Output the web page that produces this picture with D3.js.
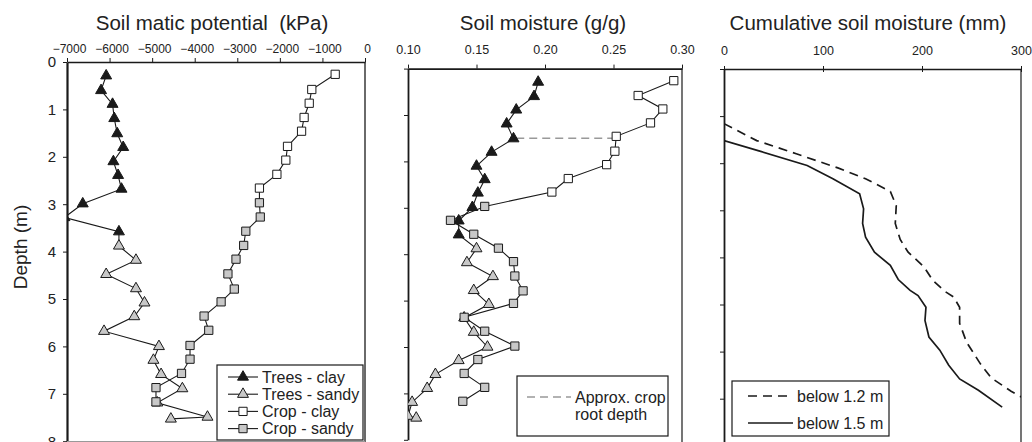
<!DOCTYPE html>
<html>
<head>
<meta charset="utf-8">
<script src="https://cdn.jsdelivr.net/npm/d3@7"></script>
<style>
  body { margin: 0; background: #fff; }
  svg { display: block; font-family: "Liberation Sans", Arial, sans-serif; }
  .title { font-size: 20.5px; fill: #222; text-anchor: middle; white-space: pre; }
  .ylabel { font-size: 19px; fill: #222; text-anchor: middle; }
  .legend text { font-size: 16px; fill: #222; }
</style>
</head>
<body>
<svg id="chart" width="1032" height="442"></svg>
<script>
// depths (m)
const treesClayDepth = [0.29, 0.60, 0.89, 1.19, 1.51, 1.80, 2.10, 2.39, 2.68, 2.99, 3.28, 3.58];
const treesSandyDepth = [3.88, 4.18, 4.48, 4.78, 5.08, 5.37, 5.68, 6.00, 6.29, 6.59, 6.89, 7.19, 7.49, 7.53];
const cropClayDepth = [0.26, 0.58, 0.87, 1.17, 1.46, 1.78, 2.07, 2.37, 2.66];
const cropSandyDepth = [2.97, 3.27, 3.57, 3.87, 4.16, 4.47, 4.79, 5.06, 5.36, 5.66, 5.98, 6.27, 6.57, 6.87, 7.17];

// soil matric potential (kPa)
const treesClayPotential = [-6080, -6200, -5930, -5890, -5820, -5680, -5910, -5800, -5720, -6630, -7060, -5780];
const treesSandyPotential = [-5780, -5380, -6080, -5380, -5180, -5420, -6130, -4840, -4970, -4790, -4290, -4880, -3700, -4560];
const cropClayPotential = [-700, -1250, -1310, -1430, -1490, -1820, -1860, -2070, -2480];
const cropSandyPotential = [-2480, -2460, -2800, -2850, -3030, -3220, -3070, -3380, -3780, -3670, -4110, -4110, -4310, -4910, -4910];

// soil moisture (g/g)
const treesClayMoisture = [0.195, 0.192, 0.179, 0.172, 0.177, 0.161, 0.150, 0.156, 0.151, 0.147, 0.137, 0.137];
const treesSandyMoisture = [0.150, 0.143, 0.162, 0.148, 0.159, 0.141, 0.148, 0.158, 0.137, 0.120, 0.114, 0.103, 0.100, 0.106];
const cropClayMoisture = [0.294, 0.268, 0.286, 0.277, 0.252, 0.251, 0.245, 0.217, 0.205];
const cropSandyMoisture = [0.156, 0.131, 0.148, 0.166, 0.177, 0.178, 0.184, 0.177, 0.141, 0.156, 0.178, 0.151, 0.141, 0.156, 0.140];

// approx. crop root depth marker
const rootDepth = 1.5;
const rootMoisture = [0.179, 0.251];

// cumulative soil moisture (mm)
const below12Depth = [1.16, 1.52, 1.80, 2.10, 2.33, 2.60, 2.90, 3.28, 3.62, 3.89, 4.20, 4.49, 4.72, 4.84, 5.06, 5.40, 5.80, 6.26, 6.56, 6.84, 7.15];
const below12Cum = [0, 33, 73, 115, 143, 168, 174, 173, 178, 186, 202, 211, 223, 232, 238, 238, 245, 259, 270, 290, 316];
const below15Depth = [1.52, 1.75, 2.05, 2.33, 2.65, 2.97, 3.28, 3.57, 3.89, 4.17, 4.47, 4.70, 4.81, 5.06, 5.34, 5.69, 5.97, 6.29, 6.58, 6.82, 7.18];
const below15Cum = [0, 37, 84, 110, 137, 141, 140, 143, 152, 168, 176, 188, 196, 204, 203, 207, 218, 227, 238, 257, 281];

// ticks
const depthTicks = [0, 1, 2, 3, 4, 5, 6, 7, 8];
const potentialTicks = [-7000, -6000, -5000, -4000, -3000, -2000, -1000, 0];
const moistureTicks = [0.10, 0.15, 0.20, 0.25, 0.30];
const cumTicks = [0, 100, 200, 300];

const GRAY = '#c8c8c8';
const INK = '#1a1a1a';

const $svg = d3.select('#chart');

function zip(depths, values) {
  return depths.map((dep, i) => ({ depth: dep, v: values[i] }));
}

const triangle = d3.symbol().type(d3.symbolTriangle).size(52);
const square = d3.symbol().type(d3.symbolSquare).size(68);

function panel(opts) {
  const x = d3.scaleLinear().domain(opts.xDomain).range([opts.left, opts.right]);
  const y = d3.scaleLinear().domain([0, 8]).range([opts.top, opts.top + 8 * opts.pxPerM]);
  const $g = $svg.append('g');

  const clipId = 'clip-' + opts.id;
  $svg.append('clipPath').attr('id', clipId)
    .append('rect')
    .attr('x', opts.left).attr('y', opts.top)
    .attr('width', opts.right - opts.left).attr('height', y(8) - opts.top);

  // right border
  $g.append('line')
    .attr('x1', opts.right).attr('x2', opts.right)
    .attr('y1', opts.top).attr('y2', 442)
    .attr('stroke', opts.rightColor).attr('stroke-width', opts.rightWidth);

  const axisX = d3.axisTop(x)
    .tickValues(opts.xTicks)
    .tickFormat(d3.format(opts.xFormat))
    .tickSize(opts.tickSize)
    .tickSizeOuter(0)
    .tickPadding(opts.xPad);

  const $ax = $g.append('g')
    .attr('transform', `translate(0,${opts.top})`)
    .call(axisX)
    .attr('font-size', opts.xFont)
    .attr('font-family', null);
  $ax.select('.domain').attr('stroke', INK).attr('stroke-width', 1.6);
  $ax.selectAll('.tick line').attr('stroke', INK).attr('y2', -opts.tickSize).attr('y1', opts.tickDown || 0);
  $ax.selectAll('.tick text').attr('fill', '#222').attr('dx', opts.xShift || 0);

  const axisY = d3.axisLeft(y)
    .tickValues(depthTicks)
    .tickFormat(opts.yLabels ? d3.format('d') : '')
    .tickSize(4)
    .tickSizeOuter(0)
    .tickPadding(7);

  const $ay = $g.append('g')
    .attr('transform', `translate(${opts.left},0)`)
    .call(axisY)
    .attr('font-size', 15)
    .attr('font-family', null);
  $ay.select('.domain').attr('stroke', INK).attr('stroke-width', opts.leftWidth);
  $ay.selectAll('.tick line').attr('stroke', INK);
  $ay.selectAll('.tick text').attr('fill', '#222');

  $svg.append('text')
    .attr('class', 'title')
    .attr('x', opts.titleX).attr('y', 30)
    .text(opts.title);

  const $data = $svg.append('g').attr('clip-path', `url(#${clipId})`);
  return { x, y, $data };
}

function profile($data, x, y, parts) {
  const line = d3.line().x(d => x(d.v)).y(d => y(d.depth));
  const all = parts.reduce((acc, p) => acc.concat(p.points), []);
  $data.append('path')
    .datum(all)
    .attr('d', line)
    .attr('fill', 'none')
    .attr('stroke', INK)
    .attr('stroke-width', 1.1);
}

function markers($data, x, y, points, shape, fill) {
  $data.selectAll(null)
    .data(points)
    .enter().append('path')
    .attr('d', shape)
    .attr('transform', d => `translate(${x(d.v)},${y(d.depth)})`)
    .attr('fill', fill)
    .attr('stroke', INK)
    .attr('stroke-width', 1);
}

function soilPanel(p, treesClay, treesSandy, cropClay, cropSandy) {
  profile(p.$data, p.x, p.y, [{ points: treesClay }, { points: treesSandy }]);
  profile(p.$data, p.x, p.y, [{ points: cropClay }, { points: cropSandy }]);
  markers(p.$data, p.x, p.y, treesClay, triangle, INK);
  markers(p.$data, p.x, p.y, treesSandy, triangle, GRAY);
  markers(p.$data, p.x, p.y, cropClay, square, '#fff');
  markers(p.$data, p.x, p.y, cropSandy, square, GRAY);
}

// PANEL 1 - matric potential
const p1 = panel({
  id: 'pot', left: 67, right: 365, top: 62, pxPerM: 47.4,
  xDomain: [-7000, 0], xTicks: potentialTicks, xFormat: 'd',
  tickSize: 4, xPad: 5, xFont: 12, xShift: 2, yLabels: true,
  leftWidth: 2.2, rightColor: '#6a6a6a', rightWidth: 2,
  title: 'Soil matic potential  (kPa)', titleX: 212
});
soilPanel(p1,
  zip(treesClayDepth, treesClayPotential), zip(treesSandyDepth, treesSandyPotential),
  zip(cropClayDepth, cropClayPotential), zip(cropSandyDepth, cropSandyPotential));

$svg.append('line')
  .attr('x1', 67).attr('x2', 365).attr('y1', 441.5).attr('y2', 441.5)
  .attr('stroke', '#999').attr('stroke-width', 1);

// PANEL 2 - soil moisture
const p2 = panel({
  id: 'moist', left: 408, right: 682, top: 68.6, pxPerM: 46.4,
  xDomain: [0.10, 0.30], xTicks: moistureTicks, xFormat: '.2f',
  tickSize: 4, xPad: 10.5, xFont: 12.5, yLabels: false,
  leftWidth: 1.8, rightColor: INK, rightWidth: 1.2,
  title: 'Soil moisture (g/g)', titleX: 543
});
p2.$data.append('line')
  .attr('x1', p2.x(rootMoisture[0])).attr('x2', p2.x(rootMoisture[1]))
  .attr('y1', p2.y(rootDepth)).attr('y2', p2.y(rootDepth))
  .attr('stroke', '#999').attr('stroke-width', 1.6).attr('stroke-dasharray', '8,5');
soilPanel(p2,
  zip(treesClayDepth, treesClayMoisture), zip(treesSandyDepth, treesSandyMoisture),
  zip(cropClayDepth, cropClayMoisture), zip(cropSandyDepth, cropSandyMoisture));

// PANEL 3 - cumulative soil moisture
const p3 = panel({
  id: 'cum', left: 724, right: 1021, top: 69, pxPerM: 47.1,
  xDomain: [0, 300], xTicks: cumTicks, xFormat: 'd',
  tickSize: 3, tickDown: 3, xPad: 11, xFont: 12.5, yLabels: false,
  leftWidth: 1.8, rightColor: INK, rightWidth: 1.2,
  title: 'Cumulative soil moisture (mm)', titleX: 868
});
const cumLine = d3.line().x(d => p3.x(d.v)).y(d => p3.y(d.depth));
p3.$data.append('path')
  .datum(zip(below12Depth, below12Cum))
  .attr('d', cumLine)
  .attr('fill', 'none').attr('stroke', INK).attr('stroke-width', 1.7)
  .attr('stroke-dasharray', '9,6');
p3.$data.append('path')
  .datum(zip(below15Depth, below15Cum))
  .attr('d', cumLine)
  .attr('fill', 'none').attr('stroke', INK).attr('stroke-width', 1.7);

// Y LABEL
$svg.append('text')
  .attr('class', 'ylabel')
  .attr('transform', 'translate(27,247) rotate(-90)')
  .text('Depth (m)');

// LEGENDS
const soilLegend = [
  { label: 'Trees - clay', shape: triangle, fill: INK },
  { label: 'Trees - sandy', shape: triangle, fill: GRAY },
  { label: 'Crop - clay', shape: square, fill: '#fff' },
  { label: 'Crop - sandy', shape: square, fill: GRAY }
];

const $leg1 = $svg.append('g').attr('class', 'legend');
$leg1.append('rect')
  .attr('x', 217).attr('y', 365).attr('width', 146).attr('height', 75)
  .attr('fill', '#fff').attr('stroke', INK).attr('stroke-width', 1.2);
const $item1 = $leg1.selectAll('g.item')
  .data(soilLegend)
  .enter().append('g')
  .attr('class', 'item')
  .attr('transform', (d, i) => `translate(0,${377 + i * 17.2})`);
$item1.append('line')
  .attr('x1', 228).attr('x2', 258)
  .attr('stroke', INK).attr('stroke-width', 1.1);
$item1.append('path')
  .attr('d', d => d.shape())
  .attr('transform', 'translate(243,0)')
  .attr('fill', d => d.fill)
  .attr('stroke', INK);
$item1.append('text')
  .attr('x', 262).attr('dy', '0.36em')
  .text(d => d.label);

const $leg2 = $svg.append('g').attr('class', 'legend');
$leg2.append('rect')
  .attr('x', 517).attr('y', 376).attr('width', 151).attr('height', 60)
  .attr('fill', '#fff').attr('stroke', INK).attr('stroke-width', 1.2);
$leg2.append('line')
  .attr('x1', 527).attr('x2', 571).attr('y1', 397).attr('y2', 397)
  .attr('stroke', '#999').attr('stroke-width', 1.6).attr('stroke-dasharray', '8,5');
$leg2.append('text').attr('x', 575).attr('y', 403).text('Approx. crop');
$leg2.append('text').attr('x', 575).attr('y', 420).text('root depth');

const cumLegend = [
  { label: 'below 1.2 m', dash: '9,6' },
  { label: 'below 1.5 m', dash: null }
];
const $leg3 = $svg.append('g').attr('class', 'legend');
$leg3.append('rect')
  .attr('x', 732).attr('y', 381).attr('width', 157).attr('height', 55)
  .attr('fill', '#fff').attr('stroke', INK).attr('stroke-width', 1.2);
const $item3 = $leg3.selectAll('g.item')
  .data(cumLegend)
  .enter().append('g')
  .attr('class', 'item')
  .attr('transform', (d, i) => `translate(0,${396 + i * 27})`);
$item3.append('line')
  .attr('x1', 748).attr('x2', 793)
  .attr('stroke', INK).attr('stroke-width', 1.7)
  .attr('stroke-dasharray', d => d.dash);
$item3.append('text')
  .attr('x', 797).attr('dy', '0.36em')
  .text(d => d.label);
</script>
</body>
</html>
